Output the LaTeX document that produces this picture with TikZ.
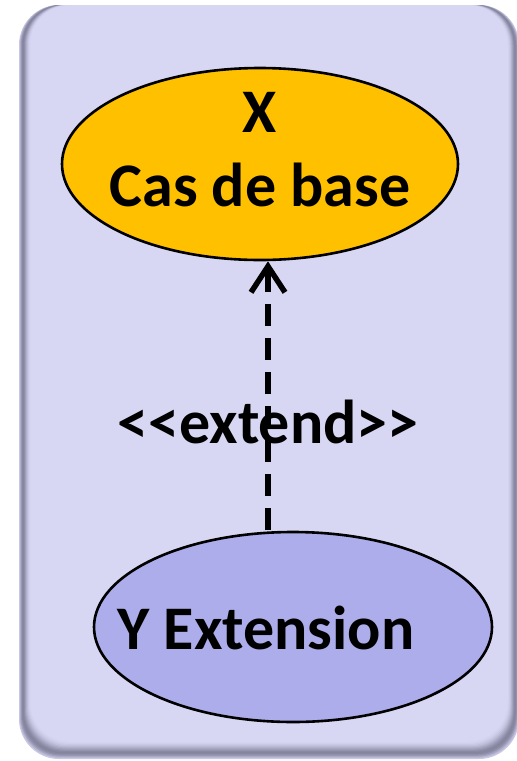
\documentclass[tikz,border=0pt]{standalone}
\usepackage{fontspec}
\setmainfont{Carlito}
\usetikzlibrary{arrows.meta,shapes.geometric}
\definecolor{bgpanel}{HTML}{D7D7F4}
\definecolor{shadecol}{HTML}{4A4A62}
\definecolor{orangefill}{HTML}{FFC000}
\definecolor{bluefill}{HTML}{ADADEB}
\tikzset{
  usecase/.style={ellipse, draw=black, line width=2.6pt},
  lbl/.style={font=\bfseries\fontsize{62}{74}\selectfont, text=black, align=center, inner sep=0pt},
  extendarrow/.style={line width=5.5pt, dash pattern=on 22pt off 12pt, -{Straight Barb[length=26pt,width=34pt,line width=5.5pt]}}
}
\begin{document}
\begin{tikzpicture}[x=1pt,y=-1pt]
\useasboundingbox (0,0) rectangle (517,761);
\fill[white] (0,0) rectangle (517,761);
% panel with edge shading
\foreach \i/\pp in {0/10,1/22,2/36,3/48,4/55,5/58,6/55,7/48,8/40,9/31,10/23,11/16,12/10,13/5,14/2,15/0}{
  \fill[shadecol!\pp!bgpanel, rounded corners=40pt]
    (19+\i*0.75,5) rectangle (519-\i*0.75,759-\i*1.15);
}
% use cases
\node[usecase, fill=orangefill, minimum width=396pt, minimum height=192pt] (X) at (260,164) {};
\node[lbl] (Xt) at (260,150) {X\\Cas de base};
\node[usecase, fill=bluefill, minimum width=398pt, minimum height=190pt] (Y) at (293,627) {};
\node[lbl] (Yt) at (266,628) {Y Extension};
% extend relation
\coordinate (s) at (268,530);
\draw[extendarrow] (s) -- (s |- X.south);
\node[lbl] (ext) at (268,422) {<{}<extend>{}>};
\end{tikzpicture}
\end{document}
